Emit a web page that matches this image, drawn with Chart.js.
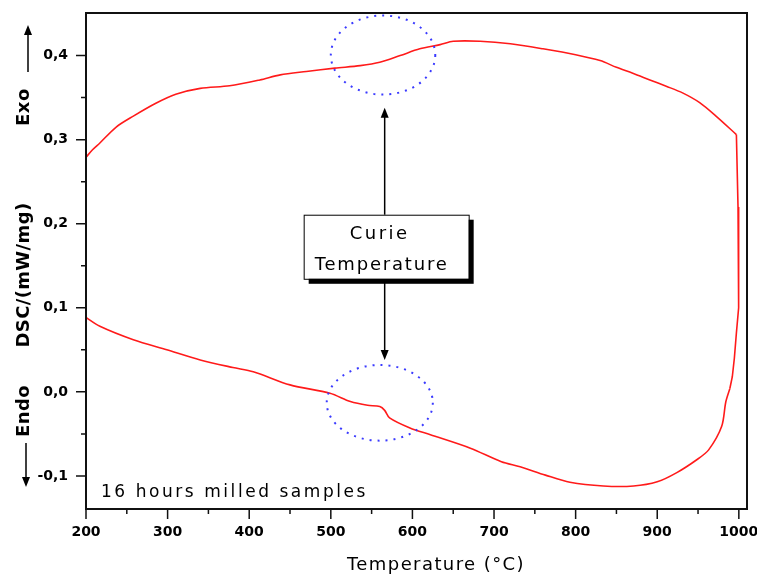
<!DOCTYPE html>
<html lang="en">
<head>
<meta charset="UTF-8">
<title>DSC 16 hours milled samples</title>
<style>
    body { margin: 0; background: #fff; }
    #wrap { width: 757px; height: 574px; }
</style>
</head>
<body>
<div id="wrap"><canvas id="myChart" width="757" height="574"></canvas></div>

<script src="https://cdn.jsdelivr.net/npm/chart.js"></script>
<script>
// heating branch, 200 -> 1000 C (upper curve)
const upperTemp = [200, 208, 217, 237, 258, 285, 310, 340, 376, 413, 438, 470, 505, 536, 560, 585, 609, 634, 650, 683, 720, 760, 800, 830, 850, 870, 891, 911, 931, 952, 972, 997];
const upperDsc  = [0.279, 0.288, 0.296, 0.315, 0.328, 0.343, 0.354, 0.361, 0.364, 0.371, 0.377, 0.381, 0.385, 0.388, 0.392, 0.400, 0.408, 0.413, 0.417, 0.417, 0.414, 0.408, 0.401, 0.394, 0.386, 0.379, 0.371, 0.3635, 0.3556, 0.344, 0.328, 0.306];

// turn at 1000 C (near vertical)
const edgeTemp = [997, 999, 1000, 999.5, 997, 994.5, 992, 989];
const edgeDsc  = [0.306, 0.22, 0.15, 0.10, 0.07, 0.04, 0.018, 0.004];

// return branch, 1000 -> 200 C (lower curve)
const lowerTemp = [989, 984, 979, 963, 948, 924, 900, 871, 834, 793, 763, 732, 709, 671, 622, 597, 572, 566, 560, 545, 524, 499, 450, 405, 380, 340, 299, 258, 217, 200];
const lowerDsc  = [0.004, -0.012, -0.041, -0.069, -0.081, -0.096, -0.107, -0.112, -0.112, -0.1075, -0.099, -0.089, -0.083, -0.067, -0.051, -0.043, -0.031, -0.022, -0.0175, -0.016, -0.0115, -0.0016, 0.0083, 0.024, 0.029, 0.038, 0.05, 0.062, 0.078, 0.0885];

const xTicks = [200, 300, 400, 500, 600, 700, 800, 900, 1000];
const xMinor = [250, 350, 450, 550, 650, 750, 850, 950];
const yTicks = [-0.1, 0.0, 0.1, 0.2, 0.3, 0.4];
const yMinor = [-0.05, 0.05, 0.15, 0.25, 0.35];

// annotation anchors (data units)
const curieT = 566;
const ellipses = [
    { t: 564, v: 0.4006, rt: 64, rv: 0.047 },
    { t: 560, v: -0.013, rt: 65, rv: 0.045 }
];

function pts(xs, ys) {
    return xs.map((x, i) => ({ x: x, y: ys[i] }));
}

function fitText(ctx, text, width) {
    ctx.letterSpacing = '0px';
    let w = ctx.measureText(text).width;
    ctx.letterSpacing = ((width - w) / text.length) + 'px';
}

function arrow(ctx, x, y1, y2) {
    // from y1 to tip y2
    let dir = y2 < y1 ? 1 : -1;
    ctx.beginPath();
    ctx.moveTo(x, y1);
    ctx.lineTo(x, y2 + dir * 6);
    ctx.stroke();
    ctx.beginPath();
    ctx.moveTo(x, y2);
    ctx.lineTo(x - 4, y2 + dir * 10);
    ctx.lineTo(x + 4, y2 + dir * 10);
    ctx.closePath();
    ctx.fill();
}

const decor = {
    id: 'decor',
    afterDraw(chart) {
        const ctx = chart.ctx;
        const xs = chart.scales.x, ys = chart.scales.y;
        const a = chart.chartArea;
        ctx.save();

        // frame
        ctx.strokeStyle = '#111';
        ctx.lineWidth = 2;
        ctx.strokeRect(a.left, a.top, a.right - a.left, a.bottom - a.top);

        // ticks, outward
        ctx.lineWidth = 1.5;
        ctx.beginPath();
        xTicks.forEach(v => { let p = xs.getPixelForValue(v); ctx.moveTo(p, a.bottom); ctx.lineTo(p, a.bottom + 10); });
        xMinor.forEach(v => { let p = xs.getPixelForValue(v); ctx.moveTo(p, a.bottom); ctx.lineTo(p, a.bottom + 5); });
        yTicks.forEach(v => { let p = ys.getPixelForValue(v); ctx.moveTo(a.left, p); ctx.lineTo(a.left - 10, p); });
        yMinor.forEach(v => { let p = ys.getPixelForValue(v); ctx.moveTo(a.left, p); ctx.lineTo(a.left - 5, p); });
        ctx.stroke();

        // dotted circles
        ctx.strokeStyle = '#3a3aff';
        ctx.lineWidth = 2;
        ctx.setLineDash([2, 6]);
        ellipses.forEach(e => {
            let cx = xs.getPixelForValue(e.t), cy = ys.getPixelForValue(e.v);
            let rx = xs.getPixelForValue(e.t + e.rt) - cx;
            let ry = cy - ys.getPixelForValue(e.v + e.rv);
            ctx.beginPath();
            ctx.ellipse(cx, cy, rx, ry, 0, 0, Math.PI * 2);
            ctx.stroke();
        });
        ctx.setLineDash([]);

        // Curie box
        let bx = xs.getPixelForValue(curieT);
        let bTop = ys.getPixelForValue(0.2107), bBot = ys.getPixelForValue(0.1345);
        let bL = bx - 81, bW = 165, bH = bBot - bTop;
        ctx.fillStyle = '#000';
        ctx.fillRect(bL + 5, bTop + 5, bW, bH);
        ctx.fillStyle = '#fff';
        ctx.fillRect(bL, bTop, bW, bH);
        ctx.strokeStyle = '#000';
        ctx.lineWidth = 1;
        ctx.strokeRect(bL + 0.5, bTop + 0.5, bW, bH);

        ctx.fillStyle = '#000';
        ctx.lineWidth = 1.5;
        arrow(ctx, bx, bTop, ys.getPixelForValue(0.338));
        arrow(ctx, bx, bBot + 1, ys.getPixelForValue(0.038));

        ctx.textBaseline = 'alphabetic';
        ctx.textAlign = 'left';
        ctx.font = '18px "DejaVu Sans"';
        fitText(ctx, 'Curie', 60);
        ctx.fillText('Curie', bx - 35, bTop + 24);
        fitText(ctx, 'Temperature', 134);
        ctx.fillText('Temperature', bx - 70, bTop + 55);

        // sample note
        ctx.font = '17px "DejaVu Sans"';
        fitText(ctx, '16 hours milled samples', 267);
        ctx.fillText('16 hours milled samples', a.left + 15, a.bottom - 12);

        // x title
        ctx.font = '18px "DejaVu Sans"';
        fitText(ctx, 'Temperature (°C)', 178);
        ctx.fillText('Temperature (°C)', 347, 570);

        // left side labels, rotated
        ctx.font = 'bold 18px "DejaVu Sans"';
        ctx.textAlign = 'center';
        ctx.textBaseline = 'middle';
        [['Exo', 107, 38], ['DSC/(mW/mg)', 275, 145], ['Endo', 411, 52]].forEach(l => {
            ctx.save();
            ctx.translate(24, l[1]);
            ctx.rotate(-Math.PI / 2);
            fitText(ctx, l[0], l[2]);
            ctx.fillText(l[0], 0, 0);
            ctx.restore();
        });
        ctx.letterSpacing = '0px';
        ctx.lineWidth = 1.5;
        arrow(ctx, 28, 72, 25);
        arrow(ctx, 26, 443, 487);

        ctx.restore();
    }
};

const ctx = document.getElementById('myChart');

const lineStyle = { showLine: true, borderColor: '#ff1a1a', borderWidth: 1.6, pointRadius: 0 };

new Chart(ctx, {
    type: 'scatter',
    data: {
        datasets: [
            Object.assign({ data: pts(upperTemp, upperDsc), tension: 0.3 }, lineStyle),
            Object.assign({ data: pts(edgeTemp, edgeDsc), tension: 0 }, lineStyle),
            Object.assign({ data: pts(lowerTemp, lowerDsc), tension: 0.3 }, lineStyle)
        ]
    },
    options: {
        responsive: false,
        animation: false,
        devicePixelRatio: 1,
        layout: { padding: { top: 13, right: 10, left: 0, bottom: 0 } },
        plugins: { legend: { display: false }, tooltip: { enabled: false } },
        scales: {
            x: {
                type: 'linear',
                min: 200,
                max: 1010,
                afterBuildTicks: s => { s.ticks = xTicks.map(v => ({ value: v })); },
                afterFit: s => { s.height = 65; s.paddingLeft = 0; s.paddingRight = 0; },
                ticks: {
                    padding: 5,
                    color: '#000',
                    maxRotation: 0,
                    autoSkip: false,
                    font: { family: 'DejaVu Sans', weight: 'bold', size: 14 },
                    callback: v => v.toFixed(0)
                },
                grid: { display: true, drawOnChartArea: false, drawTicks: true, tickLength: 10, tickColor: 'rgba(0,0,0,0)' },
                border: { display: false }
            },
            y: {
                type: 'linear',
                min: -0.1393,
                max: 0.4506,
                afterBuildTicks: s => { s.ticks = yTicks.map(v => ({ value: v })); },
                afterFit: s => { s.width = 86; s.paddingTop = 0; s.paddingBottom = 0; },
                ticks: {
                    padding: 8,
                    color: '#000',
                    autoSkip: false,
                    font: { family: 'DejaVu Sans', weight: 'bold', size: 14 },
                    callback: v => v.toFixed(1).replace('.', ',')
                },
                grid: { display: true, drawOnChartArea: false, drawTicks: true, tickLength: 10, tickColor: 'rgba(0,0,0,0)' },
                border: { display: false }
            }
        }
    },
    plugins: [decor]
});
</script>
</body>
</html>
